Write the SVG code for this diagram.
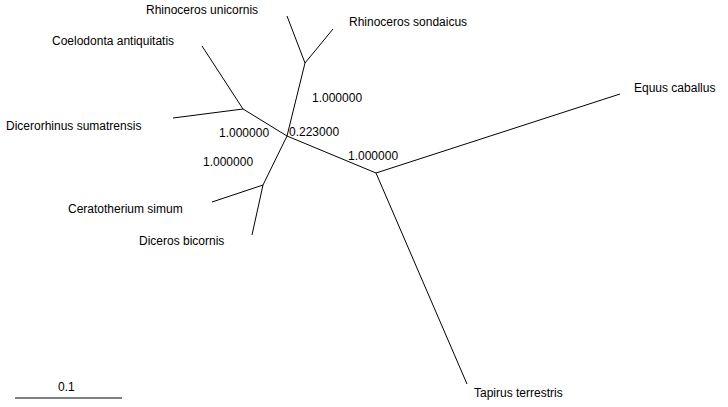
<svg xmlns="http://www.w3.org/2000/svg" width="728" height="407" viewBox="0 0 728 407">
<style>
text{font-family:"Liberation Sans",Arial,sans-serif;font-size:12px;fill:#000}
line{stroke:#000;stroke-width:1}
</style>
<rect width="728" height="407" fill="#fff"/>
<g id="connectors">
<line x1="287" y1="136" x2="305" y2="63"/>
<line x1="305" y1="63" x2="287" y2="16"/>
<line x1="305" y1="63" x2="333" y2="29"/>
<line x1="287" y1="136" x2="243" y2="109"/>
<line x1="243" y1="109" x2="202" y2="46"/>
<line x1="243" y1="109" x2="173" y2="118"/>
<line x1="287" y1="136" x2="263" y2="185"/>
<line x1="263" y1="185" x2="212" y2="202"/>
<line x1="263" y1="185" x2="252" y2="235"/>
<line x1="287" y1="136" x2="376" y2="173"/>
<line x1="376" y1="173" x2="620" y2="94"/>
<line x1="376" y1="173" x2="467" y2="384"/>
<line x1="15" y1="398" x2="122" y2="398"/>
</g>
<g id="n-unicornis"><text x="146" y="14">Rhinoceros unicornis</text></g>
<g id="n-sondaicus"><text x="349" y="26">Rhinoceros sondaicus</text></g>
<g id="n-coelodonta"><text x="52" y="45">Coelodonta antiquitatis</text></g>
<g id="n-dicerorhinus"><text x="6" y="130">Dicerorhinus sumatrensis</text></g>
<g id="n-ceratotherium"><text x="68" y="213">Ceratotherium simum</text></g>
<g id="n-diceros"><text x="139" y="245">Diceros bicornis</text></g>
<g id="n-equus"><text x="634" y="92">Equus caballus</text></g>
<g id="n-tapirus"><text x="474" y="397">Tapirus terrestris</text></g>
<g id="labels">
<text x="312" y="102">1.000000</text>
<text x="219" y="137">1.000000</text>
<text x="289" y="136">0.223000</text>
<text x="203" y="166">1.000000</text>
<text x="348" y="160">1.000000</text>
<text x="58" y="391">0.1</text>
</g>
</svg>
